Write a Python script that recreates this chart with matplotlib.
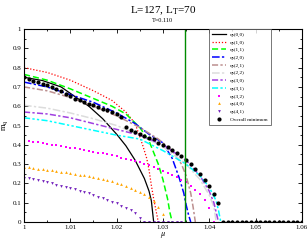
import matplotlib.pyplot as plt
import numpy as np
from matplotlib.ticker import MultipleLocator

plt.rcParams['font.family'] = ['Liberation Serif', 'DejaVu Serif']
plt.rcParams['mathtext.fontset'] = 'stix'

# line branches: (mu, m)
mu_00 = [1.000, 1.004, 1.008, 1.011, 1.014, 1.017, 1.020, 1.022, 1.024, 1.026, 1.027, 1.0275, 1.028]
m_00 = [0.750, 0.733, 0.700, 0.650, 0.600, 0.535, 0.455, 0.395, 0.320, 0.225, 0.160, 0.110, 0.0]

mu_10 = [1.000, 1.005, 1.010, 1.015, 1.019, 1.022, 1.024, 1.0256, 1.0265, 1.027, 1.0275, 1.028, 1.0285, 1.029]
m_10 = [0.800, 0.775, 0.735, 0.680, 0.630, 0.570, 0.510, 0.400, 0.330, 0.270, 0.190, 0.120, 0.060, 0.0]

mu_11 = [1.000, 1.005, 1.010, 1.015, 1.019, 1.022, 1.025, 1.027, 1.029, 1.030, 1.031, 1.0315, 1.032]
m_11 = [0.765, 0.735, 0.690, 0.640, 0.600, 0.560, 0.490, 0.420, 0.300, 0.220, 0.120, 0.050, 0.0]

mu_20 = [1.000, 1.005, 1.010, 1.015, 1.020, 1.024, 1.027, 1.030, 1.032, 1.0335, 1.0345, 1.035, 1.0355, 1.036]
m_20 = [0.725, 0.700, 0.660, 0.620, 0.565, 0.510, 0.455, 0.410, 0.330, 0.230, 0.150, 0.090, 0.040, 0.0]

mu_21 = [1.000, 1.005, 1.010, 1.015, 1.020, 1.025, 1.029, 1.032, 1.034, 1.035, 1.036, 1.0365, 1.037]
m_21 = [0.700, 0.680, 0.645, 0.600, 0.550, 0.490, 0.430, 0.370, 0.300, 0.240, 0.150, 0.080, 0.0]

mu_22 = [1.000, 1.005, 1.010, 1.015, 1.020, 1.025, 1.030, 1.035, 1.038, 1.040, 1.041, 1.0415]
m_22 = [0.605, 0.590, 0.565, 0.535, 0.500, 0.450, 0.390, 0.300, 0.220, 0.140, 0.080, 0.0]

mu_30 = [1.000, 1.005, 1.010, 1.015, 1.020, 1.025, 1.030, 1.035, 1.038, 1.040, 1.041, 1.042]
m_30 = [0.570, 0.560, 0.540, 0.510, 0.480, 0.450, 0.400, 0.320, 0.240, 0.160, 0.100, 0.0]

mu_31 = [1.000, 1.005, 1.010, 1.015, 1.020, 1.025, 1.030, 1.035, 1.038, 1.040, 1.0415, 1.042, 1.0425]
m_31 = [0.540, 0.525, 0.500, 0.475, 0.450, 0.430, 0.370, 0.300, 0.240, 0.180, 0.110, 0.060, 0.0]

# symbol branches, sampled every 0.001 in mu starting at 1.000
m_32 = [0.425, 0.421, 0.417, 0.413, 0.409, 0.405, 0.401, 0.397, 0.393, 0.389,
        0.385, 0.381, 0.377, 0.373, 0.369, 0.365, 0.360, 0.355, 0.350, 0.345,
        0.340, 0.334, 0.328, 0.322, 0.316, 0.310, 0.302, 0.294, 0.285, 0.275,
        0.265, 0.254, 0.243, 0.232, 0.220, 0.205, 0.188, 0.168, 0.145, 0.115,
        0.070, 0.0]
m_40 = [0.285, 0.283, 0.280, 0.277, 0.274, 0.271, 0.268, 0.264, 0.260, 0.257,
        0.253, 0.249, 0.245, 0.241, 0.237, 0.233, 0.228, 0.223, 0.217, 0.211,
        0.204, 0.196, 0.188, 0.178, 0.168, 0.157, 0.145, 0.130, 0.110, 0.080,
        0.040, 0.0]
m_41 = [0.230, 0.226, 0.222, 0.217, 0.212, 0.206, 0.200, 0.194, 0.188, 0.182,
        0.176, 0.169, 0.162, 0.155, 0.148, 0.140, 0.132, 0.124, 0.115, 0.106,
        0.096, 0.085, 0.073, 0.060, 0.045, 0.020, 0.0, 0.0, 0.0, 0.0,
        0.0, 0.0, 0.0, 0.0, 0.0]
m_min = [0.750, 0.742, 0.733, 0.724, 0.716, 0.708, 0.699, 0.689, 0.677, 0.665,
         0.652, 0.640, 0.630, 0.620, 0.612, 0.604, 0.596, 0.588, 0.580, 0.570,
         0.558, 0.545, 0.490, 0.478, 0.466, 0.456, 0.446, 0.436, 0.428, 0.410,
         0.400, 0.390, 0.375, 0.358, 0.340, 0.320, 0.298, 0.275, 0.248, 0.220,
         0.187, 0.145, 0.098, 0.0, 0.0, 0.0, 0.0, 0.0, 0.0, 0.0,
         0.0, 0.0, 0.0, 0.0, 0.0, 0.0, 0.0, 0.0, 0.0, 0.0, 0.0]

mu_grid = 1.0 + 0.001 * np.arange(61)
mu_star = 1.0348

fig = plt.figure(figsize=(3.08, 2.40), dpi=100)
ax = fig.add_axes([0.078, 0.075, 0.902, 0.804])

lw = 0.9
ax.plot(mu_00, m_00, color='black', lw=lw, label='qs(0,0)')
ax.plot(mu_10, m_10, color='red', lw=lw, ls=(0, (1, 1.5)), label='qs(1,0)')
ax.plot(mu_11, m_11, color='#00ff00', lw=1.1, ls=(0, (4, 2)), label='qs(1,1)')
ax.plot(mu_20, m_20, color='blue', lw=1.1, ls=(0, (5, 1.5, 1.5, 1.5)), label='qs(2,0)')
ax.plot(mu_21, m_21, color='#bc8f8f', lw=1.1, ls=(0, (4, 1.5, 1.5, 1.5)), label='qs(2,1)')
ax.plot(mu_22, m_22, color='#dcdcdc', lw=1.1, ls=(0, (5, 1.5, 1.5, 1.5)), label='qs(2,2)')
ax.plot(mu_30, m_30, color='#a040e0', lw=1.1, ls=(0, (4, 1.5, 1.5, 1.5)), label='qs(3,0)')
ax.plot(mu_31, m_31, color='#00ffff', lw=1.1, ls=(0, (4, 1.5, 1.5, 1.5, 1.5, 1.5)), label='qs(3,1)')
ax.plot(mu_grid[:len(m_32)], m_32, ls='none', marker='s', ms=1.6, mew=0,
        color='#ff00ff', label='qs(3,2)')
ax.plot(mu_grid[:len(m_40)], m_40, ls='none', marker='^', ms=2.0, mew=0,
        color='#ffa500', label='qs(4,0)')
ax.plot(mu_grid[:len(m_41)], m_41, ls='none', marker='v', ms=2.0, mew=0,
        color='#7221bc', label='qs(4,1)')
ax.plot(mu_grid[:len(m_min)], m_min, ls='none', marker='o', ms=3.0, mew=0,
        color='black', label='Overall minimum')
ax.axvline(mu_star, color='#008b00', lw=1.0)

ax.set_xlim(1.0, 1.06)
ax.set_ylim(0, 1)
ax.xaxis.set_major_locator(MultipleLocator(0.01))
ax.xaxis.set_minor_locator(MultipleLocator(0.005))
ax.yaxis.set_major_locator(MultipleLocator(0.1))
ax.yaxis.set_minor_locator(MultipleLocator(0.05))
ax.set_xticklabels(['', '1', '1.01', '1.02', '1.03', '1.04', '1.05', '1.06'])
ax.set_xticks([1.0, 1.01, 1.02, 1.03, 1.04, 1.05, 1.06])
ax.set_xticklabels(['1', '1.01', '1.02', '1.03', '1.04', '1.05', '1.06'])
ax.set_yticks([0, 0.1, 0.2, 0.3, 0.4, 0.5, 0.6, 0.7, 0.8, 0.9, 1.0])
ax.set_yticklabels(['0', '0.1', '0.2', '0.3', '0.4', '0.5', '0.6', '0.7', '0.8', '0.9', '1'])
ax.tick_params(which='both', direction='in', top=True, right=True, labelsize=5, pad=2)
ax.tick_params(which='major', length=3, width=0.6)
ax.tick_params(which='minor', length=1.5, width=0.6)
for s in ax.spines.values():
    s.set_linewidth(0.8)

ax.set_xlabel(r'$\mu$', fontsize=6, labelpad=0)
ax.set_ylabel(r'm$_{\rm q}$', fontsize=6, labelpad=2)

ax.text(0.5, 1.095, r'L=127, L$_{\rm T}$=70', transform=ax.transAxes,
        ha='center', va='center', fontsize=8)
ax.text(0.5, 1.045, 'T=0.110', transform=ax.transAxes,
        ha='center', va='center', fontsize=4.5)

leg = ax.legend(loc='upper left', bbox_to_anchor=(0.666, 1.0), borderaxespad=0,
                fontsize=3.8, frameon=True, fancybox=False, handlelength=2.6,
                labelspacing=0.55, borderpad=0.6, handletextpad=0.8)
leg.get_frame().set_edgecolor('#555555')
leg.get_frame().set_linewidth(0.7)

plt.savefig('out.png', dpi=100)
